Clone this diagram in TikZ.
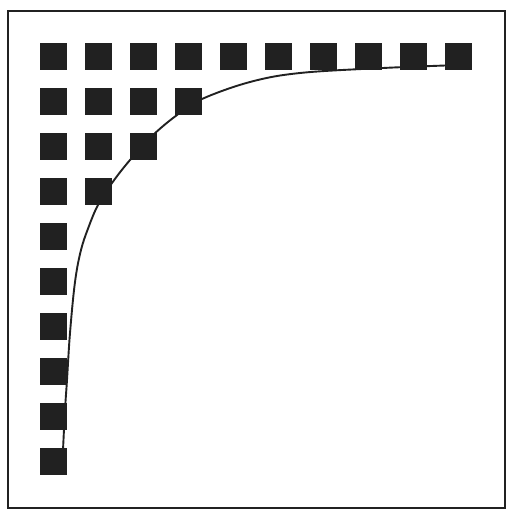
\documentclass[tikz,border=0pt]{standalone}
\usepackage{tikz}
\usetikzlibrary{positioning}

\begin{document}
\begin{tikzpicture}[
  x=1pt,y=-1pt,
  sq/.style={fill=black!87,draw=none,minimum size=26.7pt,inner sep=0pt},
  frame/.style={draw=black!87,line width=2.3pt},
  curve/.style={draw=black!87,line width=1.9pt}
]
  \useasboundingbox (0,0) rectangle (513,510);
  \draw[frame] (8,11) rectangle (505,508);
  % top row and left column
  \foreach \i in {0,...,9}
    \node[sq] (t\i) at ({53.5+45*\i},56.5) {};
  \foreach \j in {1,...,9}
    \node[sq] (l\j) at (53.5,{56.5+45*\j}) {};
  % inner staircase
  \foreach \i in {1,2,3}
    \node[sq] (a\i) at ({53.5+45*\i},101.5) {};
  \foreach \i in {1,2}
    \node[sq] (b\i) at ({53.5+45*\i},146.5) {};
  \node[sq] (c1) at (98.5,191.5) {};
  % the curve
  \draw[curve] plot[smooth,tension=0.6] coordinates {
    (63,450) (65,410) (67,380) (70,333) (75,282) (81,250) (89,226)
    (98,205) (112,183) (130,160) (152,136) (177,115) (202,99)
    (250,82) (300,73) (383,68) (460,65)};
\end{tikzpicture}
\end{document}
